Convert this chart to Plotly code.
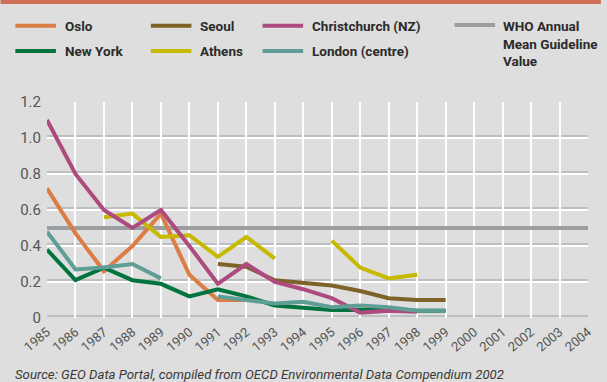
import plotly.graph_objects as go

# Annual mean lead concentrations by city (µg/m³)
years = list(range(1985, 2005))
tick_labels = [str(y) for y in years]

oslo = [0.72, 0.47, 0.26, 0.40, 0.58, 0.24, 0.10, 0.10]
oslo_years = list(range(1985, 1993))

new_york = [0.38, 0.21, 0.28, 0.21, 0.19, 0.12, 0.16, 0.12, 0.07, 0.055, 0.045, 0.045, 0.05, 0.04, 0.04]
new_york_years = list(range(1985, 2000))

seoul = [0.30, 0.285, 0.21, 0.195, 0.18, 0.15, 0.11, 0.10, 0.10]
seoul_years = list(range(1991, 2000))

athens = [0.56, 0.58, 0.45, 0.46, 0.34, 0.45, 0.33, None, 0.43, 0.28, 0.22, 0.24]
athens_years = list(range(1987, 1999))

christchurch = [1.10, 0.80, 0.60, 0.50, 0.60, 0.40, 0.19, 0.30, 0.20, 0.16, 0.11, 0.03, 0.04, 0.035]
christchurch_years = list(range(1985, 1999))

london = [0.48, 0.27, 0.28, 0.30, 0.22, None, 0.12, 0.10, 0.08, 0.09, 0.06, 0.07, 0.06, 0.04, 0.04]
london_years = list(range(1985, 2000))

who_value = 0.5

y_ticks = [0, 0.2, 0.4, 0.6, 0.8, 1.0, 1.2]
y_tick_labels = ["0", "0.2", "0.4", "0.6", "0.8", "1.0", "1.2"]

colors = {
    "Oslo": "#dc7d45",
    "New York": "#00733f",
    "Seoul": "#7e6227",
    "Athens": "#c6b900",
    "Christchurch (NZ)": "#ad4b7f",
    "London (centre)": "#5f9d97",
    "WHO": "#9a9ea0",
}

W, H = 607, 382
ML, MR, MT, MB = 47, 13, 102, 64
BG = "#dddedd"
FONT = "Roboto, Liberation Sans, sans-serif"


def px_x(px):
    return (px - ML) / (W - ML - MR)


def px_y(py):
    return (H - MB - py) / (H - MT - MB)


fig = go.Figure()

series = [
    ("WHO", [years[0], years[-1]], [who_value, who_value]),
    ("Oslo", oslo_years, oslo),
    ("New York", new_york_years, new_york),
    ("Seoul", seoul_years, seoul),
    ("Athens", athens_years, athens),
    ("Christchurch (NZ)", christchurch_years, christchurch),
    ("London (centre)", london_years, london),
]
for name, xs, ys in series:
    fig.add_trace(go.Scatter(
        x=xs, y=ys, mode="lines", name=name, showlegend=False,
        line=dict(color=colors[name], width=4), hoverinfo="skip",
    ))

shapes = []
# grey shadow just above each horizontal gridline
for v in y_ticks:
    shapes.append(dict(type="line", xref="x", yref="y", x0=years[0], x1=years[-1],
                       y0=v + 0.011, y1=v + 0.011, layer="below",
                       line=dict(color="#b3b5b6", width=1.3)))
# orange band along the top
shapes.append(dict(type="rect", xref="paper", yref="paper",
                   x0=px_x(0), x1=px_x(W), y0=px_y(4), y1=px_y(0),
                   fillcolor="#cf6f57", line=dict(width=0)))

annotations = []
legend_items = [
    ("Oslo", 15, 63, 25.7),
    ("New York", 15, 63, 51),
    ("Seoul", 152, 200, 25.7),
    ("Athens", 152, 200, 51),
    ("Christchurch (NZ)", 265, 313, 25.7),
    ("London (centre)", 265, 313, 51),
]
for name, lx, tx, ly in legend_items:
    shapes.append(dict(type="line", xref="paper", yref="paper",
                       x0=px_x(lx), x1=px_x(lx + 41), y0=px_y(ly), y1=px_y(ly),
                       line=dict(color=colors[name], width=4)))
    annotations.append(dict(xref="paper", yref="paper", x=px_x(tx), y=px_y(ly),
                            xanchor="left", yanchor="middle", showarrow=False,
                            text=f"<b>{name}</b>",
                            font=dict(family=FONT, size=13.5, color="#2b2b2b")))

shapes.append(dict(type="line", xref="paper", yref="paper",
                   x0=px_x(459), x1=px_x(500), y0=px_y(25), y1=px_y(25),
                   line=dict(color=colors["WHO"], width=4)))
annotations.append(dict(xref="paper", yref="paper", x=px_x(506), y=px_y(43.5),
                        xanchor="left", yanchor="middle", showarrow=False, align="left",
                        text="<b>WHO Annual<br>Mean Guideline<br>Value</b>",
                        font=dict(family=FONT, size=13.5, color="#2b2b2b")))

annotations.append(dict(xref="paper", yref="paper", x=px_x(13), y=px_y(374),
                        xanchor="left", yanchor="middle", showarrow=False,
                        text="<i>Source: GEO Data Portal, compiled from OECD Environmental Data Compendium 2002</i>",
                        font=dict(family=FONT, size=13.2, color="#3a3a3a")))

fig.update_layout(
    width=W, height=H,
    margin=dict(l=ML, r=MR, t=MT, b=MB),
    paper_bgcolor=BG, plot_bgcolor=BG,
    shapes=shapes, annotations=annotations,
    xaxis=dict(range=[years[0], years[-1]], tickvals=years, ticktext=tick_labels,
               tickangle=-40, showgrid=True, gridcolor="white", gridwidth=1.5,
               zeroline=False, showline=False, ticks="", ticklen=0,
               ticklabelstandoff=3,
               tickfont=dict(family=FONT, size=13, color="#555555")),
    yaxis=dict(range=[0, 1.2], tickvals=y_ticks, ticktext=y_tick_labels,
               showgrid=True, gridcolor="white", gridwidth=1.5,
               zeroline=False, showline=False, ticks="", ticklen=0,
               ticklabelstandoff=5,
               tickfont=dict(family=FONT, size=15, color="#555555")),
)

fig.write_html("out.html")
